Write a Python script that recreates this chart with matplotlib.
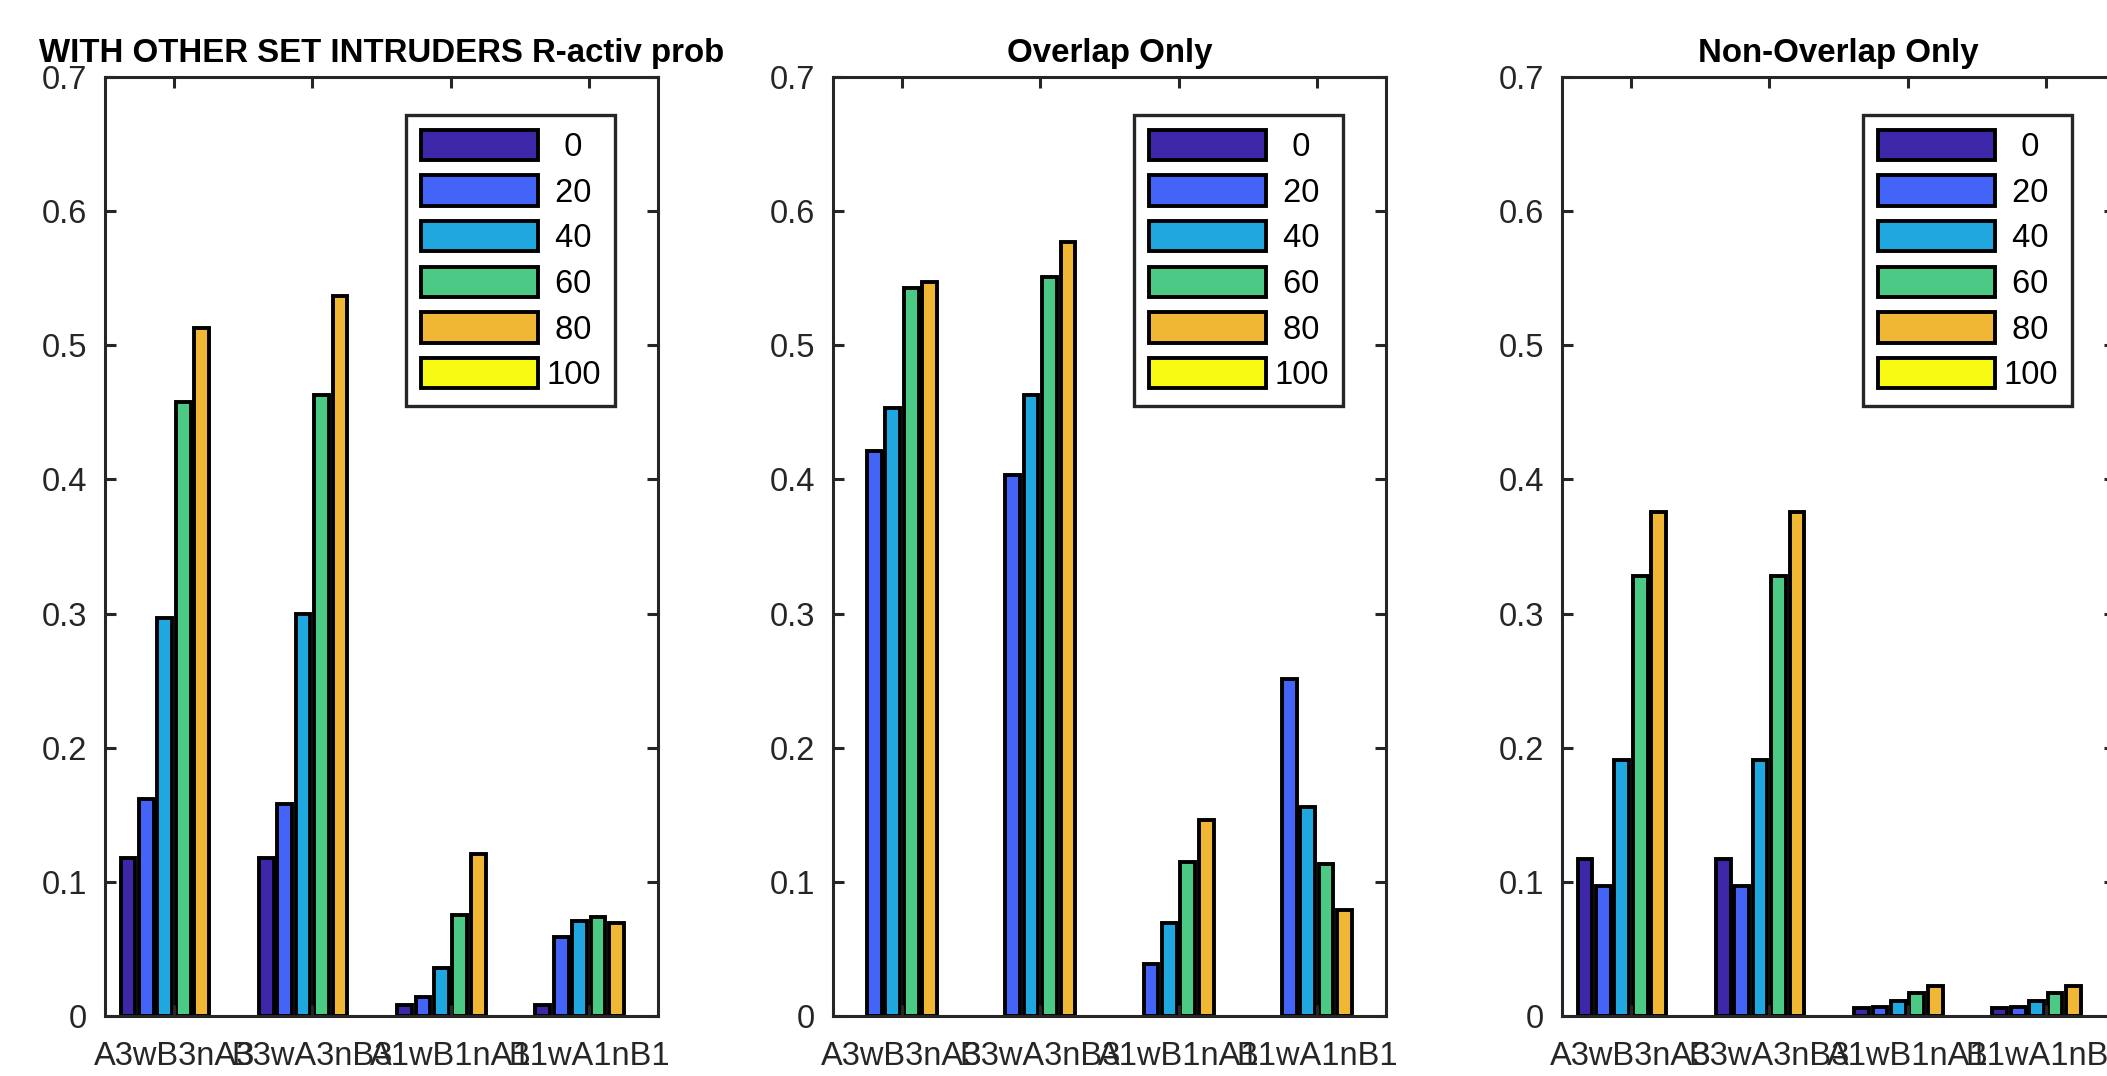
import matplotlib.pyplot as plt
import numpy as np

plt.rcParams['font.family'] = ['Liberation Sans', 'DejaVu Sans']

categories = ['A3wB3nA3', 'B3wA3nB3', 'A1wB1nA1', 'B1wA1nB1']
series_labels = ['0', '20', '40', '60', '80', '100']
colors = ['#3d26a8', '#4464f8', '#1ea8df', '#4bca86', '#efb733', '#f8fa14']
yticks = [0, 0.1, 0.2, 0.3, 0.4, 0.5, 0.6, 0.7]
ytick_labels = ['0', '0.1', '0.2', '0.3', '0.4', '0.5', '0.6', '0.7']

# rows = series (0..100), cols = categories
with_other = [
    [0.118, 0.118, 0.008, 0.008],
    [0.162, 0.158, 0.014, 0.059],
    [0.297, 0.300, 0.036, 0.071],
    [0.458, 0.463, 0.075, 0.074],
    [0.513, 0.537, 0.121, 0.069],
    [0.0, 0.0, 0.0, 0.0],
]
overlap_only = [
    [0.0, 0.0, 0.0, 0.0],
    [0.421, 0.403, 0.039, 0.251],
    [0.453, 0.463, 0.069, 0.156],
    [0.543, 0.551, 0.115, 0.113],
    [0.547, 0.577, 0.146, 0.079],
    [0.0, 0.0, 0.0, 0.0],
]
non_overlap_only = [
    [0.117, 0.117, 0.006, 0.006],
    [0.097, 0.097, 0.007, 0.007],
    [0.191, 0.191, 0.011, 0.011],
    [0.328, 0.328, 0.017, 0.017],
    [0.376, 0.376, 0.022, 0.022],
    [0.0, 0.0, 0.0, 0.0],
]
titles = ['WITH OTHER SET INTRUDERS R-activ prob', 'Overlap Only', 'Non-Overlap Only']
panels = [with_other, overlap_only, non_overlap_only]

fig = plt.figure(figsize=(21.07, 10.76), dpi=100)
lefts = [0.0498, 0.3953, 0.7413]
axc = '#262626'
fs = 23.5

x = np.arange(1, len(categories) + 1)
n = len(series_labels)
step = 0.8 / n
maxlen = max(len(s) for s in series_labels)

for left, vals, title in zip(lefts, panels, titles):
    ax = fig.add_axes([left, 0.0558, 0.2625, 0.8727])
    for i in range(n):
        # pad with spaces (half a digit wide) so the labels sit centred
        lab = ' ' * (maxlen - len(series_labels[i])) + series_labels[i]
        lws = [2.8 if v > 0 else 0 for v in vals[i]]
        ax.bar(x + (i - (n - 1) / 2) * step, vals[i], width=step * 0.8,
               color=colors[i], edgecolor='black', linewidth=lws, label=lab)
    ax.set_xlim(0.5, 4.5)
    ax.set_ylim(0, 0.7)
    ax.set_xticks(x)
    ax.set_xticklabels(categories)
    ax.set_yticks(yticks)
    ax.set_yticklabels(ytick_labels)
    ax.tick_params(direction='in', length=8, width=2.2, labelsize=fs,
                   colors=axc, top=True, right=True)
    ax.tick_params(axis='x', pad=18)
    ax.tick_params(axis='y', pad=13)
    for sp in ax.spines.values():
        sp.set_linewidth(2.2)
        sp.set_color(axc)
    ax.set_title(title, fontsize=23.8, fontweight='bold', pad=11)
    leg = ax.legend(loc='upper right', bbox_to_anchor=(0.923, 0.9596),
                    borderaxespad=0, fontsize=fs, handlelength=3.6,
                    handleheight=1.05, labelspacing=0.38, borderpad=0.45,
                    handletextpad=0.25, fancybox=False, framealpha=1)
    leg.get_frame().set_edgecolor(axc)
    leg.get_frame().set_linewidth(2.4)
    for h in leg.legend_handles:
        h.set_linewidth(2.8)

fig.savefig('out.png', dpi=100)
